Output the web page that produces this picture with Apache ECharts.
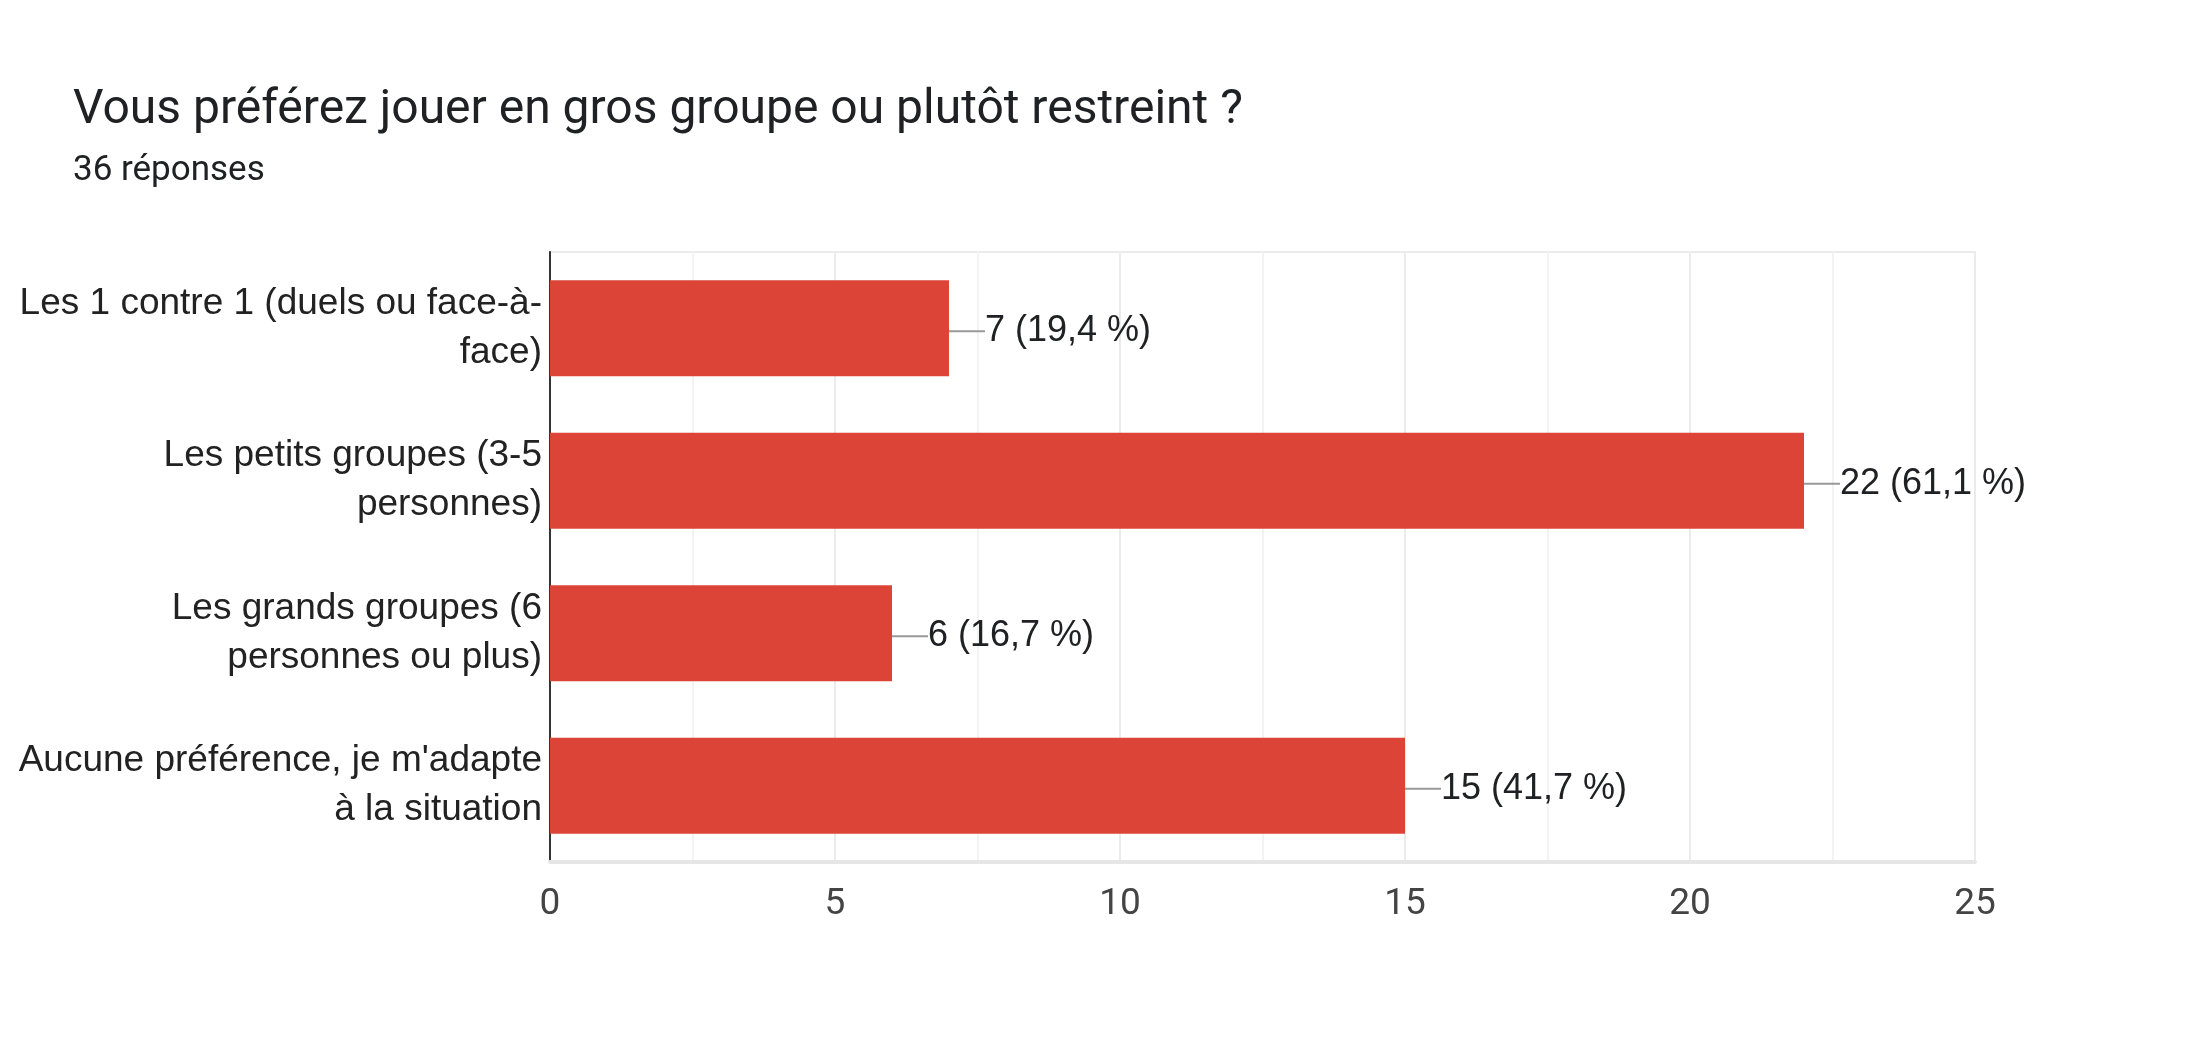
<!DOCTYPE html>
<html><head><meta charset="utf-8">
<script src="https://cdn.jsdelivr.net/npm/echarts@6/dist/echarts.min.js"></script>
<style>html,body{margin:0;padding:0;background:#fff}#c{width:2196px;height:1044px}</style>
</head><body><div id="c"></div>
<script>
const categories = ["Les 1 contre 1 (duels ou face-à-\nface)", "Les petits groupes (3-5\npersonnes)", "Les grands groupes (6\npersonnes ou plus)", "Aucune préférence, je m'adapte\nà la situation"];
const counts = [7, 22, 6, 15];
const percents = ["19,4", "61,1", "16,7", "41,7"];
const totalResponses = 36;
const xTicks = [0, 5, 10, 15, 20, 25];

const chartFont = '"Liberation Sans", Arial, sans-serif';
const chart = echarts.init(document.getElementById('c'));
chart.setOption({
  animation: false,
  textStyle: {fontFamily: chartFont},
  title: {
    text: 'Vous préférez jouer en gros groupe ou plutôt restreint ?',
    subtext: totalResponses + ' réponses',
    left: 68, top: 82,
    textStyle: {fontSize: 48, fontWeight: 'normal', color: '#202124', fontFamily: 'Roboto'},
    subtextStyle: {fontSize: 35, color: '#202124', fontFamily: 'Roboto'},
    itemGap: 19
  },
  grid: {left: 550, right: 221, top: 252, bottom: 182, show: true, borderColor: '#ebebeb', borderWidth: 2},
  xAxis: {
    type: 'value', min: xTicks[0], max: xTicks[xTicks.length - 1], interval: 5,
    axisLine: {show: true, lineStyle: {color: '#e6e6e6', width: 4}},
    axisTick: {show: false},
    axisLabel: {fontSize: 37, color: '#444', margin: 24, fontFamily: 'Roboto'},
    splitLine: {lineStyle: {color: '#ebebeb', width: 2}},
    minorTick: {show: false, splitNumber: 2},
    minorSplitLine: {show: true, lineStyle: {color: '#f3f3f3', width: 2}}
  },
  yAxis: {
    type: 'category', data: categories, inverse: true,
    axisLine: {show: true, lineStyle: {color: '#333', width: 2}},
    axisTick: {show: false},
    axisLabel: {fontSize: 37, color: '#222', align: 'right', margin: 8, lineHeight: 49, padding: [16, 0, 0, 0], fontFamily: chartFont},
    splitLine: {show: false}
  },
  series: [{
    type: 'bar',
    data: counts,
    barWidth: '63%',
    itemStyle: {color: '#db4437'},
    label: {
      show: true, position: 'right', distance: 0,
      fontSize: 36, color: '#202124', fontFamily: chartFont,
      formatter: p => p.value + ' (' + percents[p.dataIndex] + '\u00a0%)'
    },
    labelLayout: {dx: 36, dy: 3},
    labelLine: {show: true, lineStyle: {color: '#999', width: 2}}
  }]
});
</script></body></html>
